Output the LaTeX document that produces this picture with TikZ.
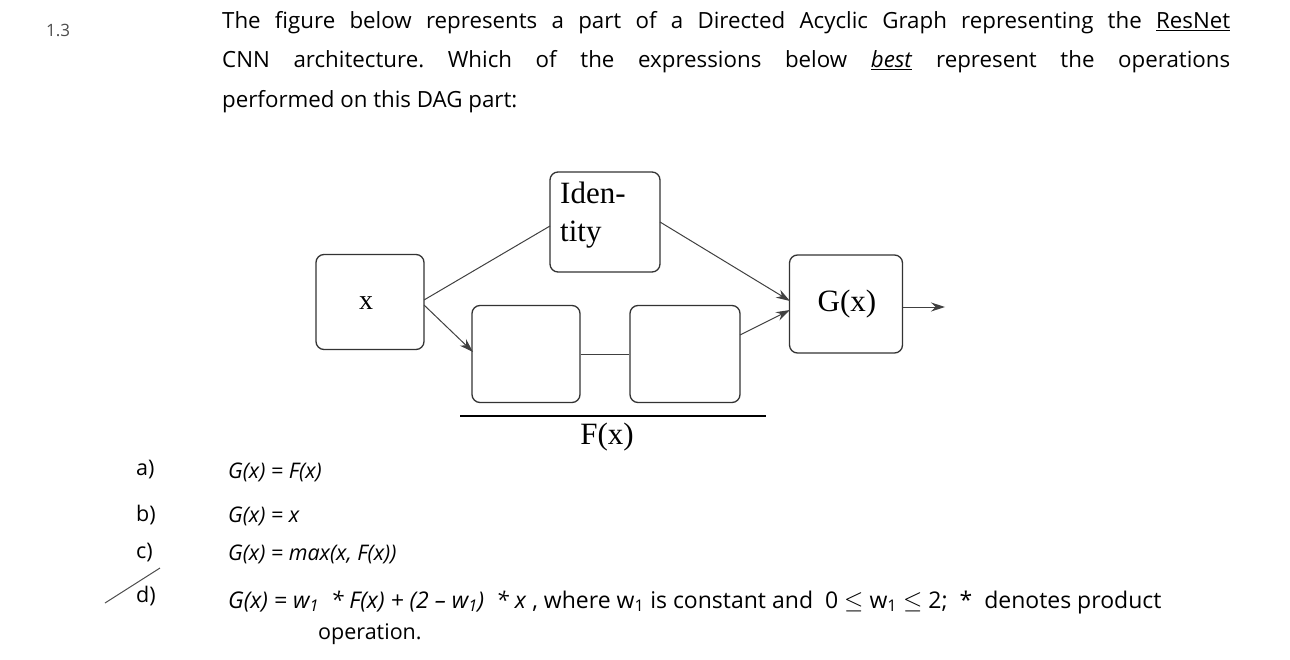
\documentclass[tikz,border=0pt]{standalone}
\usepackage{fontspec}
\setmainfont{Open Sans}
\newfontfamily\serifx{Liberation Serif}
\usetikzlibrary{arrows.meta}
\frenchspacing
\begin{document}
\begin{tikzpicture}[x=1pt,y=-1pt,
  blk/.style={draw=black!80,line width=1.3pt,rounded corners=8pt},
  con/.style={draw=black!75,line width=1pt},
  arr/.style={con,-{Stealth[length=14pt,width=9pt]}},
  txt/.style={anchor=west,inner sep=0pt,font=\fontsize{21.5}{24}\selectfont}]
\useasboundingbox (0,0) rectangle (1290,660);
\node[anchor=west,inner sep=0pt,font=\fontsize{17}{20}\selectfont,text=black!70] (num) at (46,30) {1.3};
\node[anchor=north west,inner sep=0pt,text width=1008pt,align=justify,font=\fontsize{22.3}{39.5}\selectfont] (q) at (222,11)
{The figure below represents a part of a Directed Acyclic Graph representing the \underline{ResNet}\linebreak CNN architecture. Which of the expressions below \underline{\textit{best}} represent the operations\linebreak performed on this DAG part:};
\node[blk,minimum width=108pt,minimum height=95pt] (x) at (370,302) {};
\node[font=\serifx\fontsize{28}{28}\selectfont] (xl) at (366,303) {x};
\node[blk,minimum width=110pt,minimum height=100pt] (id) at (605,222) {};
\node[anchor=north west,inner sep=0pt,align=left,font=\serifx\fontsize{31}{38}\selectfont] (idl) at (560,182) {Iden-\\tity};
\node[blk,minimum width=113pt,minimum height=98pt] (g) at (846,304) {};
\node[font=\serifx\fontsize{31}{30}\selectfont] (gl) at (847,304) {G(x)};
\node[blk,minimum width=108pt,minimum height=97pt] (b1) at (526,354) {};
\node[blk,minimum width=110pt,minimum height=97pt] (b2) at (685,354) {};
\coordinate (out) at (945,307);
\draw[con] (424,300) -- (550,226);
\draw[arr] (660,222) -- (790,301);
\draw[arr] (424,305) -- (473,352);
\draw[con] (b1.east) -- (b2.west);
\draw[arr] (740,335) -- (790,310);
\draw[arr] (g.east |- out) -- (out);
\coordinate (f1) at (460,416); \coordinate (f2) at (766,416);
\draw[line width=2.5pt] (f1) -- (f2);
\node[font=\serifx\fontsize{31}{30}\selectfont] (fl) at (607,437) {F(x)};
\node[txt] (la) at (136,470) {a)};
\node[txt] (lb) at (136,515) {b)};
\node[txt] (lc) at (136,553) {c)};
\node[txt] (ld) at (136,596) {d)};
\draw[line width=1pt,black!70] (105,603) -- (160,568);
\node[txt] (fa) at (228,472) {\textit{G(x) = F(x)}};
\node[txt] (fb) at (228,516) {\textit{G(x) = x}};
\node[txt] (fc) at (228,554) {\textit{G(x) = max(x, F(x))}};
\node[txt,font=\fontsize{23}{24}\selectfont] (fd) at (228,602) {\textit{G(x) = w\textsubscript{1} \ * F(x) + (2 -- w\textsubscript{1}) \ * x} , where w\textsubscript{1} is constant and \ 0 $\le$ w\textsubscript{1} $\le$ 2; \ * \ denotes product};
\node[txt] (fe) at (318,634) {operation.};
\end{tikzpicture}
\end{document}
